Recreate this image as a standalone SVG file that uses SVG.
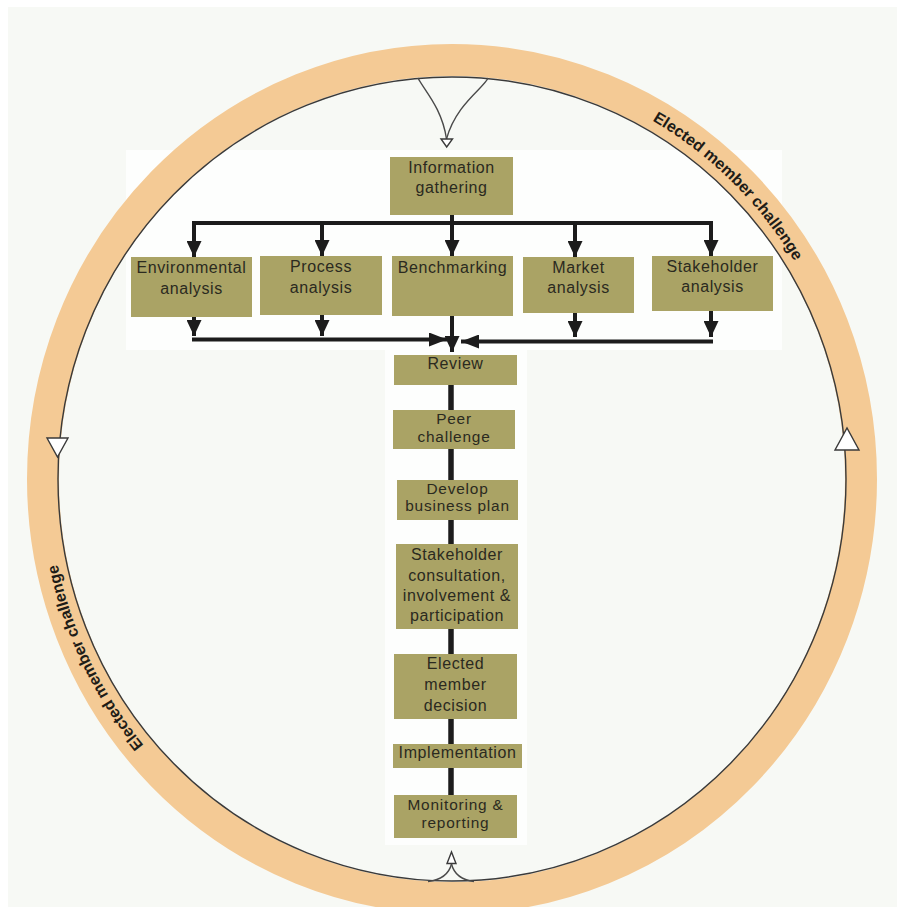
<svg xmlns="http://www.w3.org/2000/svg" width="904" height="907" viewBox="0 0 904 907">
<style>
.box{fill:#aaa365;}
.lbl{font-family:"Liberation Sans",Arial,sans-serif;font-size:16px;letter-spacing:0.6px;fill:#2b2a1f;text-anchor:middle;}
.tight{font-size:15.4px;letter-spacing:0.8px;}
.ring{font-family:"Liberation Sans",Arial,sans-serif;font-size:16px;font-weight:bold;fill:#1e1c17;}
.conn{stroke:#1c1c1c;stroke-width:4;fill:none;}
.spine{stroke:#1c1c1c;stroke-width:5.5;fill:none;}
.cusp{stroke:#4a4a4a;stroke-width:1.4;fill:none;}
.open{fill:#ffffff;stroke:#3a3a3a;stroke-width:1.4;}
</style>
<defs>
<marker id="ah" markerUnits="userSpaceOnUse" markerWidth="16" markerHeight="15" refX="16" refY="7.5" orient="auto">
<path d="M0,0 L16,7.5 L0,15 z" fill="#1c1c1c"/>
</marker>
<marker id="ahs" markerUnits="userSpaceOnUse" markerWidth="18" markerHeight="14" refX="18" refY="7" orient="auto">
<path d="M0,0 L18,7 L0,14 z" fill="#1c1c1c"/>
</marker>
<path id="ringPath" d="M452,66 A403,413 0 1,1 452,892 A403,413 0 1,1 452,66"/>
</defs>
<rect x="0" y="0" width="904" height="907" fill="#ffffff"/>
<rect x="8" y="7" width="889" height="900" fill="#f7f9f5"/>
<rect x="126" y="150" width="656" height="200" fill="#fdfefd"/>
<rect x="385" y="350" width="142" height="495" fill="#fdfefd"/>
<g id="ring">
<ellipse cx="452" cy="479" rx="409" ry="419" fill="none" stroke="#f4ca95" stroke-width="32"/>
<ellipse cx="452" cy="479" rx="394" ry="402" fill="none" stroke="#3a3a3a" stroke-width="1.4"/>
<text class="ring"><textPath href="#ringPath" startOffset="210">Elected member challenge</textPath></text>
<text class="ring"><textPath href="#ringPath" startOffset="1634">Elected member challenge</textPath></text>
</g>
<g id="connectors">
<path class="cusp" d="M418,78 C424,90 442,108 446.5,139"/>
<path class="cusp" d="M488,78 C484,88 456,104 446.5,139"/>
<polygon class="open" points="441,139 452.5,139 446.7,147"/>
<path class="cusp" d="M451.5,864 C449,874 440,880 428,881.5"/>
<path class="cusp" d="M451.5,864 C454,874 462,880 474,881.5"/>
<polygon class="open" points="447,863.5 456,863.5 451.5,852"/>
<polygon class="open" points="47,438 68,438 57.5,457"/>
<polygon class="open" points="835,450 859,450 847,428"/>
<path class="conn" d="M452,215 V223"/>
<path class="conn" d="M192,223 H713"/>
<path class="conn" d="M194,221 V257" marker-end="url(#ah)"/>
<path class="conn" d="M322,223 V256" marker-end="url(#ah)"/>
<path class="conn" d="M452,223 V256" marker-end="url(#ah)"/>
<path class="conn" d="M575,223 V257" marker-end="url(#ah)"/>
<path class="conn" d="M711,221 V256" marker-end="url(#ah)"/>
<path class="conn" d="M194,317 V336" marker-end="url(#ah)"/>
<path class="conn" d="M322,315 V336" marker-end="url(#ah)"/>
<path class="conn" d="M575,313 V337" marker-end="url(#ah)"/>
<path class="conn" d="M711,311 V337" marker-end="url(#ah)"/>
<path class="conn" d="M192,339.5 H447" marker-end="url(#ahs)"/>
<path class="conn" d="M713,341.5 H461" marker-end="url(#ahs)"/>
<path class="conn" d="M452,316 V352" marker-end="url(#ah)"/>
<path class="spine" d="M451,385 V410"/>
<path class="spine" d="M451,449 V480"/>
<path class="spine" d="M451,520 V544"/>
<path class="spine" d="M451,629 V654"/>
<path class="spine" d="M451,719 V744"/>
<path class="spine" d="M451,768 V795"/>
</g>
<g id="info">
<rect class="box" x="390" y="157" width="123" height="58"/>
<text class="lbl" x="451.5" y="173">Information</text>
<text class="lbl" x="451.5" y="193">gathering</text>
</g>
<g id="env">
<rect class="box" x="131" y="257" width="121" height="60"/>
<text class="lbl" x="191.5" y="273">Environmental</text>
<text class="lbl" x="191.5" y="294">analysis</text>
</g>
<g id="process">
<rect class="box" x="260" y="256" width="122" height="59"/>
<text class="lbl" x="321" y="272">Process</text>
<text class="lbl" x="321" y="293">analysis</text>
</g>
<g id="bench">
<rect class="box" x="392" y="256" width="121" height="60"/>
<text class="lbl" x="452.5" y="273">Benchmarking</text>
</g>
<g id="market">
<rect class="box" x="523" y="257" width="111" height="56"/>
<text class="lbl" x="578.5" y="273">Market</text>
<text class="lbl" x="578.5" y="293">analysis</text>
</g>
<g id="stakeholder">
<rect class="box" x="652" y="256" width="121" height="55"/>
<text class="lbl" x="712.5" y="272">Stakeholder</text>
<text class="lbl" x="712.5" y="292">analysis</text>
</g>
<g id="review">
<rect class="box" x="394" y="355" width="123" height="30"/>
<text class="lbl" x="455.5" y="369">Review</text>
</g>
<g id="peer">
<rect class="box" x="393" y="410" width="122" height="39"/>
<text class="lbl tight" x="454" y="424">Peer</text>
<text class="lbl tight" x="454" y="441.5">challenge</text>
</g>
<g id="develop">
<rect class="box" x="397" y="480" width="121" height="40"/>
<text class="lbl tight" x="457.5" y="493.5">Develop</text>
<text class="lbl tight" x="457.5" y="511">business plan</text>
</g>
<g id="consult">
<rect class="box" x="396" y="544" width="122" height="85"/>
<text class="lbl" x="457" y="560">Stakeholder</text>
<text class="lbl" x="457" y="581">consultation,</text>
<text class="lbl" x="457" y="601">involvement &amp;</text>
<text class="lbl" x="457" y="621">participation</text>
</g>
<g id="elected">
<rect class="box" x="394" y="654" width="123" height="65"/>
<text class="lbl" x="455.5" y="669">Elected</text>
<text class="lbl" x="455.5" y="690">member</text>
<text class="lbl" x="455.5" y="711">decision</text>
</g>
<g id="implementation">
<rect class="box" x="393" y="744" width="129" height="24"/>
<text class="lbl" x="457.5" y="758">Implementation</text>
</g>
<g id="monitoring">
<rect class="box" x="394" y="795" width="123" height="43"/>
<text class="lbl tight" x="455.5" y="810">Monitoring &amp;</text>
<text class="lbl tight" x="455.5" y="828">reporting</text>
</g>
</svg>
